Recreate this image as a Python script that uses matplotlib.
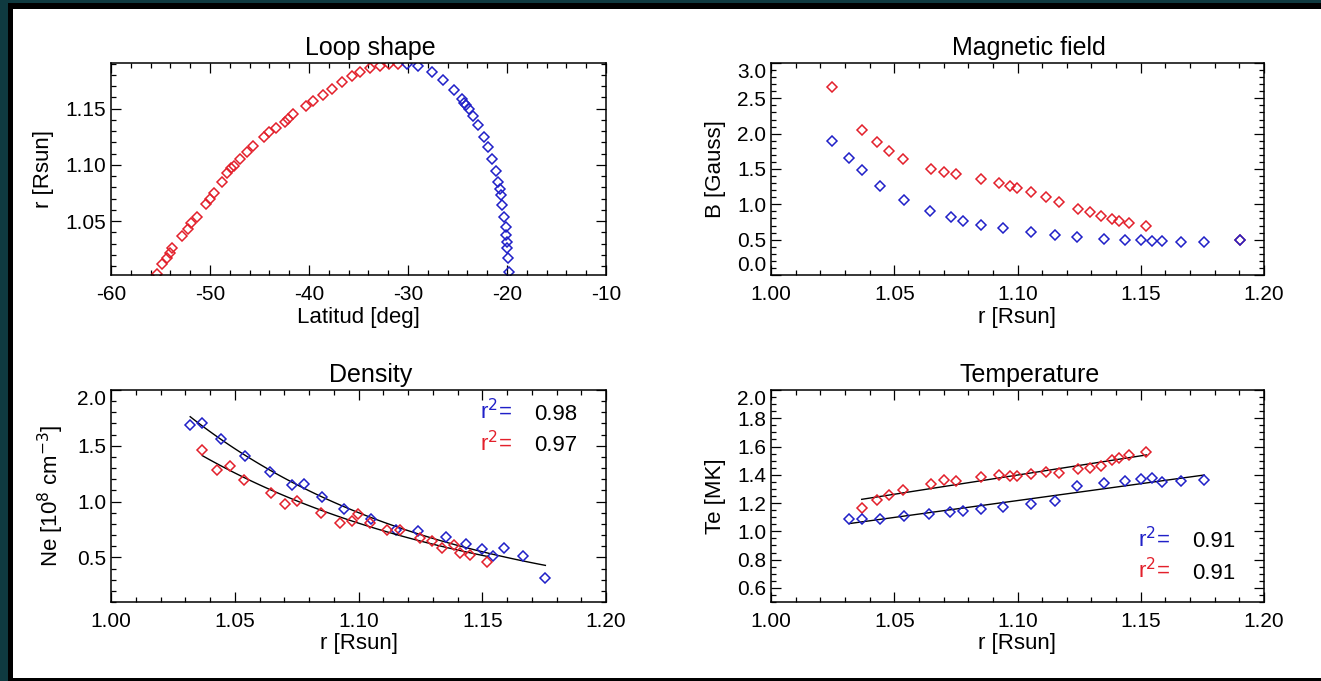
import numpy as np
import matplotlib
matplotlib.use("Agg")
import matplotlib.pyplot as plt
from matplotlib.patches import Rectangle
from matplotlib.ticker import MultipleLocator

plt.rcParams['font.family'] = ['Liberation Sans', 'DejaVu Sans']
plt.rcParams['axes.unicode_minus'] = False

RED = '#e3202b'
BLUE = '#2020c8'

# Loop shape (latitude [deg], r [Rsun])
loop_red_lat = [-55.32, -54.89, -54.38, -54.09, -53.79, -52.81, -52.26, -51.87, -51.28, -50.43,
                -50.00, -49.57, -48.81, -48.26, -47.92, -47.62, -46.98, -46.26, -45.66, -44.55,
                -44.00, -43.32, -42.47, -42.17, -41.57, -40.34, -39.57, -38.60, -37.66, -36.68,
                -35.70, -34.85, -33.79, -32.85, -31.91, -31.06]
loop_red_r = [1.0030, 1.0115, 1.0174, 1.0213, 1.0257, 1.0367, 1.0426, 1.0479, 1.0535, 1.0648,
              1.0692, 1.0751, 1.0849, 1.0923, 1.0967, 1.0991, 1.1047, 1.1115, 1.1166, 1.1249,
              1.1290, 1.1331, 1.1382, 1.1408, 1.1450, 1.1521, 1.1568, 1.1624, 1.1675, 1.1737,
              1.1787, 1.1823, 1.1861, 1.1879, 1.1894, 1.1900]
loop_blue_lat = [-30.09, -28.98, -27.62, -26.43, -25.32, -24.56, -24.30, -24.13, -23.87, -23.45,
                 -22.94, -22.34, -21.96, -21.53, -21.11, -20.89, -20.72, -20.60, -20.47, -20.30,
                 -20.13, -20.09, -20.04, -20.00, -19.91, -19.83]
loop_blue_r = [1.1900, 1.1876, 1.1823, 1.1755, 1.1663, 1.1589, 1.1553, 1.1530, 1.1497, 1.1435,
               1.1352, 1.1245, 1.1154, 1.1050, 1.0941, 1.0849, 1.0781, 1.0731, 1.0642, 1.0538,
               1.0444, 1.0376, 1.0317, 1.0257, 1.0172, 1.0050]

# Magnetic field (r [Rsun], B [Gauss])
b_red_r = [1.0248, 1.0368, 1.0429, 1.0479, 1.0537, 1.0648, 1.0701, 1.0752, 1.0851, 1.0925,
           1.0969, 1.0997, 1.1053, 1.1115, 1.1168, 1.1246, 1.1294, 1.1337, 1.1383, 1.1410,
           1.1451, 1.1523, 1.1904]
b_red = [2.66, 2.05, 1.88, 1.76, 1.64, 1.50, 1.46, 1.43, 1.36, 1.30,
         1.26, 1.23, 1.17, 1.10, 1.04, 0.94, 0.89, 0.84, 0.79, 0.77,
         0.74, 0.69, 0.50]
b_blue_r = [1.0248, 1.0318, 1.0369, 1.0443, 1.0540, 1.0644, 1.0730, 1.0778, 1.0851, 1.0942,
            1.1053, 1.1152, 1.1243, 1.1352, 1.1436, 1.1499, 1.1544, 1.1586, 1.1663, 1.1757,
            1.1904]
b_blue = [1.90, 1.65, 1.48, 1.26, 1.06, 0.91, 0.82, 0.77, 0.71, 0.66,
          0.61, 0.57, 0.54, 0.51, 0.50, 0.49, 0.48, 0.48, 0.47, 0.46,
          0.50]

# Density (r [Rsun], Ne [1e8 cm-3])
ne_blue_r = [1.0320, 1.0369, 1.0444, 1.0540, 1.0643, 1.0730, 1.0780, 1.0853, 1.0941, 1.1052,
             1.1151, 1.1241, 1.1353, 1.1435, 1.1501, 1.1544, 1.1586, 1.1663, 1.1755]
ne_blue = [1.683, 1.704, 1.557, 1.407, 1.269, 1.150, 1.159, 1.039, 0.934, 0.841,
           0.746, 0.740, 0.680, 0.623, 0.578, 0.515, 0.587, 0.515, 0.311]
ne_red_r = [1.0369, 1.0429, 1.0480, 1.0538, 1.0648, 1.0703, 1.0752, 1.0849, 1.0926, 1.0974,
            1.0999, 1.1048, 1.1117, 1.1166, 1.1248, 1.1296, 1.1336, 1.1384, 1.1411, 1.1452,
            1.1520]
ne_red = [1.458, 1.287, 1.320, 1.195, 1.078, 0.976, 1.006, 0.898, 0.808, 0.829,
          0.892, 0.805, 0.746, 0.746, 0.671, 0.650, 0.584, 0.608, 0.539, 0.521,
          0.461]
ne_r2 = ['0.98', '0.97']

# Temperature (r [Rsun], Te [MK])
te_red_r = [1.0368, 1.0429, 1.0479, 1.0537, 1.0648, 1.0701, 1.0752, 1.0851, 1.0925, 1.0969,
            1.0997, 1.1053, 1.1115, 1.1168, 1.1246, 1.1294, 1.1337, 1.1383, 1.1410, 1.1451,
            1.1523]
te_red = [1.167, 1.219, 1.256, 1.289, 1.334, 1.362, 1.358, 1.381, 1.402, 1.388,
          1.393, 1.405, 1.421, 1.416, 1.440, 1.447, 1.459, 1.508, 1.522, 1.539,
          1.558]
te_blue_r = [1.0318, 1.0368, 1.0441, 1.0540, 1.0643, 1.0728, 1.0778, 1.0851, 1.0942, 1.1053,
             1.1152, 1.1243, 1.1352, 1.1436, 1.1499, 1.1544, 1.1586, 1.1663, 1.1757]
te_blue = [1.089, 1.087, 1.089, 1.108, 1.122, 1.134, 1.146, 1.160, 1.172, 1.193,
           1.216, 1.322, 1.341, 1.353, 1.369, 1.374, 1.351, 1.358, 1.365]
te_r2 = ['0.91', '0.91']

W, H = 1321, 681
fig = plt.figure(figsize=(W / 100, H / 100), dpi=100)
fig.patch.set_facecolor('#0f3a40')
fig.add_artist(Rectangle((8 / W, 0), 1, 1 - 3 / H, transform=fig.transFigure,
                         facecolor='black', edgecolor='none', zorder=-2))
fig.add_artist(Rectangle((13 / W, 3 / H), 1, 1 - 12 / H, transform=fig.transFigure,
                         facecolor='white', edgecolor='none', zorder=-1))

FS = 15      # tick labels
LFS = 16     # axis labels
TFS = 18     # titles


def make_axes(x0, y0, x1, y1):
    ax = fig.add_axes([x0 / W, 1 - y1 / H, (x1 - x0) / W, (y1 - y0) / H])
    ax.tick_params(which='both', direction='in', top=True, right=True, labelsize=FS)
    ax.tick_params(axis='x', which='major', pad=7)
    ax.tick_params(which='major', length=7, width=0.9)
    ax.tick_params(which='minor', length=3.5, width=0.9)
    for s in ax.spines.values():
        s.set_linewidth(1.1)
    return ax


def set_title(ax, text):
    # titles sit a little right of the axes centre in the original
    ax.set_title(text, fontsize=TFS, pad=6, x=0.524)


def diamonds(ax, x, y, color):
    ax.plot(x, y, 'D', ms=5, mfc='none', mec=color, mew=1.1, ls='none')


def r_axis(ax):
    ax.set_xlim(1.0, 1.2)
    ax.xaxis.set_major_locator(MultipleLocator(0.05))
    ax.xaxis.set_minor_locator(MultipleLocator(0.01))
    ax.xaxis.set_major_formatter('{x:.2f}')
    ax.set_xlabel('r [Rsun]', fontsize=LFS, labelpad=2)


def end_labels_inside(ax):
    # IDL style: labels at the y limits are pulled inside the axis
    lo, hi = ax.get_ylim()
    for t in ax.yaxis.get_major_ticks():
        if abs(t.get_loc() - lo) < 1e-9:
            t.label1.set_verticalalignment('bottom')
        elif abs(t.get_loc() - hi) < 1e-9:
            t.label1.set_verticalalignment('top')


def r2_text(ax, x, y, color, value):
    ax.text(x, y, r'r$^2$=', color=color, fontsize=FS + 1, transform=ax.transAxes)
    ax.text(x + 0.11, y, value, color='black', fontsize=FS + 1, transform=ax.transAxes)


# Loop shape
ax = make_axes(111, 63, 606, 275)
diamonds(ax, loop_red_lat, loop_red_r, RED)
diamonds(ax, loop_blue_lat, loop_blue_r, BLUE)
ax.set_xlim(-60, -10)
ax.set_ylim(1.002, 1.1905)
ax.xaxis.set_major_locator(MultipleLocator(10))
ax.xaxis.set_minor_locator(MultipleLocator(2))
ax.yaxis.set_major_locator(MultipleLocator(0.05))
ax.yaxis.set_minor_locator(MultipleLocator(0.01))
ax.yaxis.set_major_formatter('{x:.2f}')
ax.set_xlabel('Latitud [deg]', fontsize=LFS, labelpad=2)
ax.set_ylabel('r [Rsun]', fontsize=LFS, labelpad=8)
set_title(ax, 'Loop shape')

# Magnetic field
ax = make_axes(771, 63, 1264, 275)
diamonds(ax, b_red_r, b_red, RED)
diamonds(ax, b_blue_r, b_blue, BLUE)
r_axis(ax)
ax.set_ylim(0, 3.0)
ax.yaxis.set_major_locator(MultipleLocator(0.5))
ax.yaxis.set_minor_locator(MultipleLocator(0.1))
ax.yaxis.set_major_formatter('{x:.1f}')
ax.set_ylabel('B [Gauss]', fontsize=LFS, labelpad=8)
set_title(ax, 'Magnetic field')
mag_ax = ax

# Density with exponential fits
ax = make_axes(111, 390, 606, 602)
for rr, nn, col in [(ne_blue_r, ne_blue, BLUE), (ne_red_r, ne_red, RED)]:
    rr = np.array(rr)
    k, c = np.polyfit(rr, np.log(nn), 1)
    xs = np.linspace(rr.min(), rr.max(), 100)
    ax.plot(xs, np.exp(c + k * xs), color='black', lw=1.0)
    diamonds(ax, rr, nn, col)
r_axis(ax)
ax.set_ylim(0.1, 2.0)
ax.yaxis.set_major_locator(MultipleLocator(0.5))
ax.yaxis.set_minor_locator(MultipleLocator(0.1))
ax.yaxis.set_major_formatter('{x:.1f}')
ax.set_ylabel(r'Ne [10$^8$ cm$^{-3}$]', fontsize=LFS, labelpad=8)
set_title(ax, 'Density')
r2_text(ax, 0.745, 0.86, BLUE, ne_r2[0])
r2_text(ax, 0.745, 0.71, RED, ne_r2[1])
dens_ax = ax

# Temperature with linear fits
ax = make_axes(771, 390, 1264, 602)
for rr, tt, col in [(te_red_r, te_red, RED), (te_blue_r, te_blue, BLUE)]:
    rr = np.array(rr)
    k, c = np.polyfit(rr, tt, 1)
    xs = np.array([rr.min(), rr.max()])
    ax.plot(xs, c + k * xs, color='black', lw=1.0)
    diamonds(ax, rr, tt, col)
r_axis(ax)
ax.set_ylim(0.5, 2.0)
ax.yaxis.set_major_locator(MultipleLocator(0.2))
ax.yaxis.set_minor_locator(MultipleLocator(0.05))
ax.yaxis.set_major_formatter('{x:.1f}')
ax.set_ylabel('Te [MK]', fontsize=LFS, labelpad=8)
set_title(ax, 'Temperature')
r2_text(ax, 0.745, 0.26, BLUE, te_r2[0])
r2_text(ax, 0.745, 0.11, RED, te_r2[1])
temp_ax = ax

fig.canvas.draw()
for a in (mag_ax, dens_ax, temp_ax):
    end_labels_inside(a)

fig.savefig('out.png', dpi=100, facecolor=fig.get_facecolor())
